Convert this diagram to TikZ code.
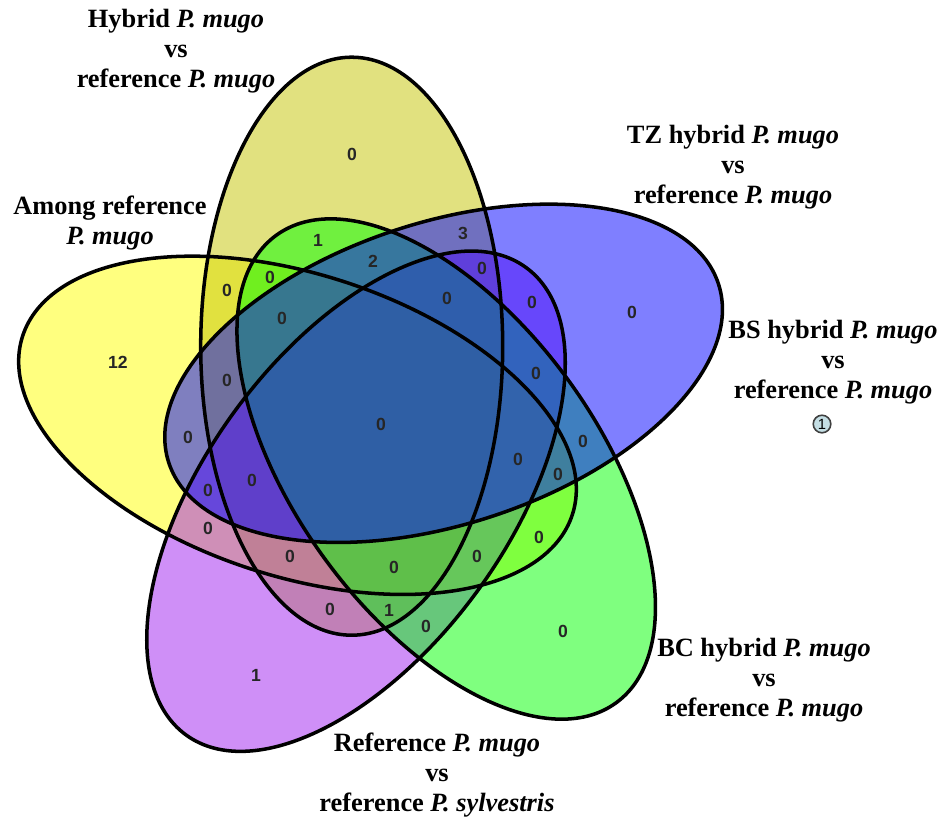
\documentclass[tikz,border=0pt]{standalone}
\usepackage{fontspec}
\setmainfont{Liberation Serif}
\newfontfamily\numfont{Liberation Sans}
\definecolor{vyellow}{HTML}{FFFF00}
\definecolor{volive}{HTML}{C4C400}
\definecolor{vpurple}{HTML}{A020F0}
\definecolor{vgreen}{HTML}{00FF00}
\definecolor{vblue}{HTML}{0000FF}
\definecolor{badgefill}{HTML}{C4DEE4}

\begin{document}
\begin{tikzpicture}[x=0.01cm,y=0.01cm,
  setfill/.style={fill opacity=0.5},
  setline/.style={draw=black,line width=1pt},
  num/.style={font=\numfont\bfseries\fontsize{5}{6}\selectfont,text=black!85,inner sep=0pt},
  setlabel/.style={font=\bfseries\fontsize{7.5}{8.55}\selectfont,align=center,inner sep=0pt}]
  \useasboundingbox (0,0) rectangle (943,823);
  % ellipse centres
  \coordinate (cAmong) at (297.5,397.7);
  \coordinate (cHyb) at (351.7,476.8);
  \coordinate (cBS) at (443.6,449.7);
  \coordinate (cBC) at (446.2,354.0);
  \coordinate (cRef) at (356.0,321.8);
  % fills
  \fill[vyellow,setfill,rotate around={162:(cAmong)}] (cAmong) ellipse[x radius=289,y radius=151];
  \fill[volive,setfill,rotate around={90:(cHyb)}] (cHyb) ellipse[x radius=289,y radius=151];
  \fill[vpurple,setfill,rotate around={-126:(cRef)}] (cRef) ellipse[x radius=289,y radius=151];
  \fill[vgreen,setfill,rotate around={-54:(cBC)}] (cBC) ellipse[x radius=289,y radius=151];
  \fill[vblue,setfill,rotate around={18:(cBS)}] (cBS) ellipse[x radius=289,y radius=151];
  % outlines
  \draw[setline,rotate around={162:(cAmong)}] (cAmong) ellipse[x radius=289,y radius=151];
  \draw[setline,rotate around={90:(cHyb)}] (cHyb) ellipse[x radius=289,y radius=151];
  \draw[setline,rotate around={-126:(cRef)}] (cRef) ellipse[x radius=289,y radius=151];
  \draw[setline,rotate around={-54:(cBC)}] (cBC) ellipse[x radius=289,y radius=151];
  \draw[setline,rotate around={18:(cBS)}] (cBS) ellipse[x radius=289,y radius=151];
  % set names
  \node[setlabel] (lHyb) at (176,772) {Hybrid \textit{P. mugo}\\vs\\reference \textit{P. mugo}};
  \node[setlabel] (lAmong) at (110,600) {Among reference\\\textit{P. mugo}};
  \node[setlabel] (lTZ) at (733,656) {TZ hybrid \textit{P. mugo}\\vs\\reference \textit{P. mugo}};
  \node[setlabel] (lBS) at (833,461) {BS hybrid \textit{P. mugo}\\vs\\reference \textit{P. mugo}};
  \node[circle,draw=black!75,line width=0.45pt,fill=badgefill,minimum size=5pt,inner sep=0pt,font=\numfont\fontsize{4.2}{4.2}\selectfont] (badge) at (822,399) {1};
  \node[setlabel] (lBC) at (764,143) {BC hybrid \textit{P. mugo}\\vs\\reference \textit{P. mugo}};
  \node[setlabel] (lRef) at (437,48) {Reference \textit{P. mugo}\\vs\\reference \textit{P. sylvestris}};
  % region counts
  \node[num] (n1) at (352,669) {0};
  \node[num] (n2) at (318,583) {1};
  \node[num] (n3) at (463,590) {3};
  \node[num] (n4) at (373,562) {2};
  \node[num] (n5) at (270,546) {0};
  \node[num] (n6) at (227,533) {0};
  \node[num] (n7) at (482,555) {0};
  \node[num] (n8) at (532,521) {0};
  \node[num] (n9) at (632,511) {0};
  \node[num] (n10) at (447,525) {0};
  \node[num] (n11) at (282,505) {0};
  \node[num] (n12) at (118,461) {12};
  \node[num] (n13) at (227,443) {0};
  \node[num] (n14) at (536,450) {0};
  \node[num] (n15) at (381,399) {0};
  \node[num] (n16) at (188,386) {0};
  \node[num] (n17) at (583,382) {0};
  \node[num] (n18) at (518,364) {0};
  \node[num] (n19) at (558,349) {0};
  \node[num] (n20) at (208,333) {0};
  \node[num] (n21) at (252,343) {0};
  \node[num] (n22) at (208,295) {0};
  \node[num] (n23) at (539,286) {0};
  \node[num] (n24) at (290,267) {0};
  \node[num] (n25) at (394,256) {0};
  \node[num] (n26) at (477,267) {0};
  \node[num] (n27) at (330,214) {0};
  \node[num] (n28) at (389,213) {1};
  \node[num] (n29) at (426,197) {0};
  \node[num] (n30) at (563,192) {0};
  \node[num] (n31) at (256,148) {1};
\end{tikzpicture}
\end{document}
